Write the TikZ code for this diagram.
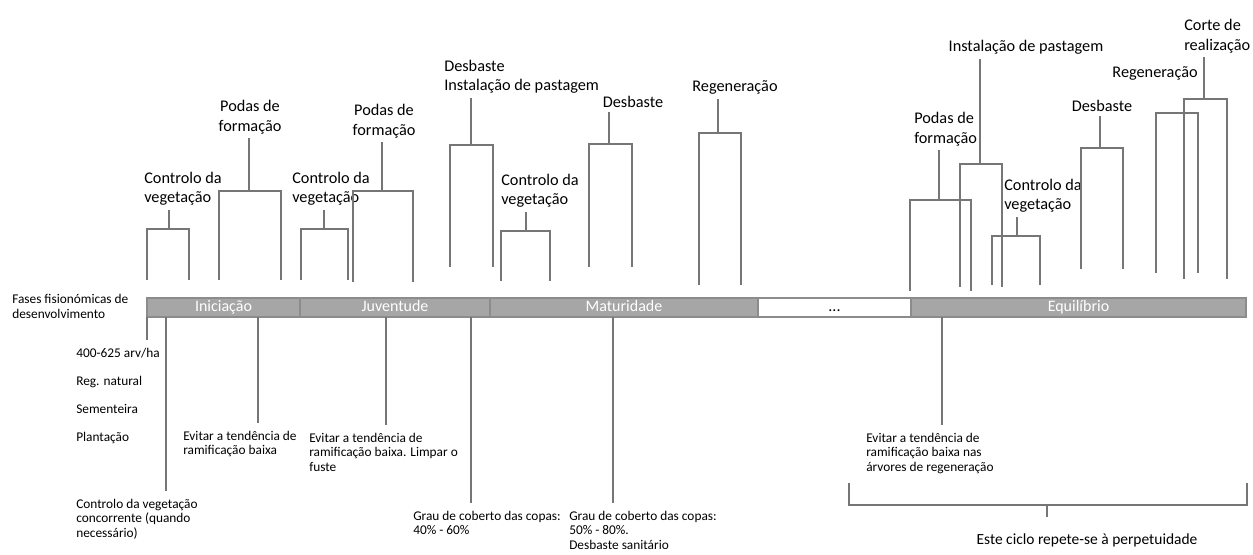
\documentclass[tikz,border=0pt]{standalone}
\usepackage{fontspec}
\setmainfont{Carlito}
\usetikzlibrary{positioning}
\definecolor{phasegray}{RGB}{166,166,166}
\definecolor{phaseedge}{RGB}{140,140,140}
\definecolor{linegray}{RGB}{118,118,118}

\begin{document}
\begin{tikzpicture}[
    x=0.75pt, y=-0.75pt,
    toplabel/.style={font=\fontsize{12.2}{14.5}\selectfont, inner sep=3pt},
    note/.style={font=\fontsize{10}{10.8}\selectfont, align=left, inner xsep=3pt, inner ysep=6pt, anchor=north west},
    phase/.style={rectangle, draw=phaseedge, fill=phasegray, line width=1pt, outer sep=0pt, minimum height=14.25pt, inner sep=0pt, text height=8.5pt, text depth=2.5pt, text=white, font=\fontsize{12}{13}\selectfont},
    bracket/.style={draw=linegray, line width=0.8pt},
    link/.style={draw=linegray, line width=0.8pt}
]
\useasboundingbox (0,0) rectangle (1253,554);

% Phase bar
\node[phase, minimum width=114.75pt, anchor=north west] (iniciacao) at (147,298) {Iniciação};
\node[phase, minimum width=142.5pt, right=0pt of iniciacao] (juventude) {Juventude};
\node[phase, minimum width=201pt, right=0pt of juventude] (maturidade) {Maturidade};
\node[phase, minimum width=114.75pt, right=0pt of maturidade, fill=white, text=black] (reticencias) {...};
\node[phase, minimum width=251.25pt, right=0pt of reticencias] (equilibrio) {Equilíbrio};
\node[font=\fontsize{10}{11.25}\selectfont, align=left, inner sep=3pt, anchor=north west] (fases) at (8,290) {Fases fisionómicas de\\desenvolvimento};

% Operations above the bar
\node[toplabel, align=left, anchor=south west] (veg_a) at (140,210) {Controlo da\\vegetação};
\node[toplabel, align=center, anchor=south] (pod_a) at (250,138) {Podas de\\formação};
\node[toplabel, align=left, anchor=south west] (veg_b) at (288,210) {Controlo da\\vegetação};
\node[toplabel, align=center, anchor=south] (pod_b) at (384,142) {Podas de\\formação};
\node[toplabel, align=left, anchor=south west] (des_a) at (440,98) {Desbaste\\Instalação de pastagem};
\node[toplabel, align=left, anchor=south west] (veg_c) at (497,212) {Controlo da\\vegetação};
\node[toplabel, anchor=south] (des_b) at (633,112) {Desbaste};
\node[toplabel, anchor=south] (reg_a) at (735,99) {Regeneração};
\node[toplabel, align=left, anchor=south west] (pod_c) at (910,150) {Podas de\\formação};
\node[toplabel, anchor=south] (ins_a) at (1026,59) {Instalação de pastagem};
\node[toplabel, align=left, anchor=south west] (veg_d) at (1000,217) {Controlo da\\vegetação};
\node[toplabel, anchor=south] (des_c) at (1102,116) {Desbaste};
\node[toplabel, anchor=south] (reg_b) at (1155,85) {Regeneração};
\node[toplabel, align=left, anchor=south west] (cor_a) at (1180,57) {Corte de\\realização};

\foreach \xl/\xr/\yt/\yb/\xs/\lbl in {
    147/189/229/280/169/veg_a,
    219/281/191/280/249/pod_a,
    301/348/229/280/324/veg_b,
    353/413/191/282/382/pod_b,
    450/493/145/267/471/des_a,
    501/550/231/281/526/veg_c,
    589/632/144/267/609/des_b,
    699/741/133/285/718/reg_a,
    910/971/200/291/939/pod_c,
    960/1002/164/287/980/ins_a,
    992/1040/236/285/1017/veg_d,
    1081/1123/148/269/1100/des_c,
    1184/1227/99/279/1204/cor_a}
{
    \draw[bracket] (\xl,\yb) |- (\xr,\yt) -- (\xr,\yb);
    \draw[bracket] (\xs,\yt) -- (\xs,\yt |- \lbl.south);
}
\draw[bracket] (1156,273) |- (1198,113) -- (1198,273);

% Notes below the bar
\node[note, font=\fontsize{10}{21}\selectfont] (densidade) at (72,340) {400-625 arv/ha\\Reg. natural\\Sementeira\\Plantação};
\node[note] (concorrente) at (72,491) {Controlo da vegetação\\concorrente (quando\\necessário)};
\node[note] (evitar_a) at (179,423) {Evitar a tendência de\\ramificação baixa};
\node[note] (evitar_b) at (305,425) {Evitar a tendência de\\ramificação baixa. Limpar o\\fuste};
\node[note] (grau_a) at (409,503) {Grau de coberto das copas:\\40\% - 60\%};
\node[note] (grau_b) at (565,503) {Grau de coberto das copas:\\50\% - 80\%.\\Desbaste sanitário};
\node[note] (evitar_c) at (862,425) {Evitar a tendência de\\ramificação baixa nas\\árvores de regeneração};

\draw[link] (147,0 |- iniciacao.south) -- (147,0 |- densidade.north);
\draw[link] (166,0 |- iniciacao.south) -- (166,0 |- concorrente.north);
\draw[link] (258,0 |- iniciacao.south) -- (258,0 |- evitar_a.north);
\draw[link] (386,0 |- juventude.south) -- (386,0 |- evitar_b.north);
\draw[link] (471,0 |- juventude.south) -- (471,0 |- grau_a.north);
\draw[link] (613,0 |- maturidade.south) -- (613,0 |- grau_b.north);
\draw[link] (942,0 |- equilibrio.south) -- (942,0 |- evitar_c.north);

% Cycle brace
\node[toplabel, font=\fontsize{11.6}{14}\selectfont] (ciclo) at (1087,540) {Este ciclo repete-se à perpetuidade};
\coordinate (brace_mid) at (1047,505);
\coordinate (brace_tip) at (1047,517);
\draw[link] (849,483) |- (1247,505) -- (1247,483);
\draw[link] (brace_mid) -- (brace_tip);

\end{tikzpicture}
\end{document}
